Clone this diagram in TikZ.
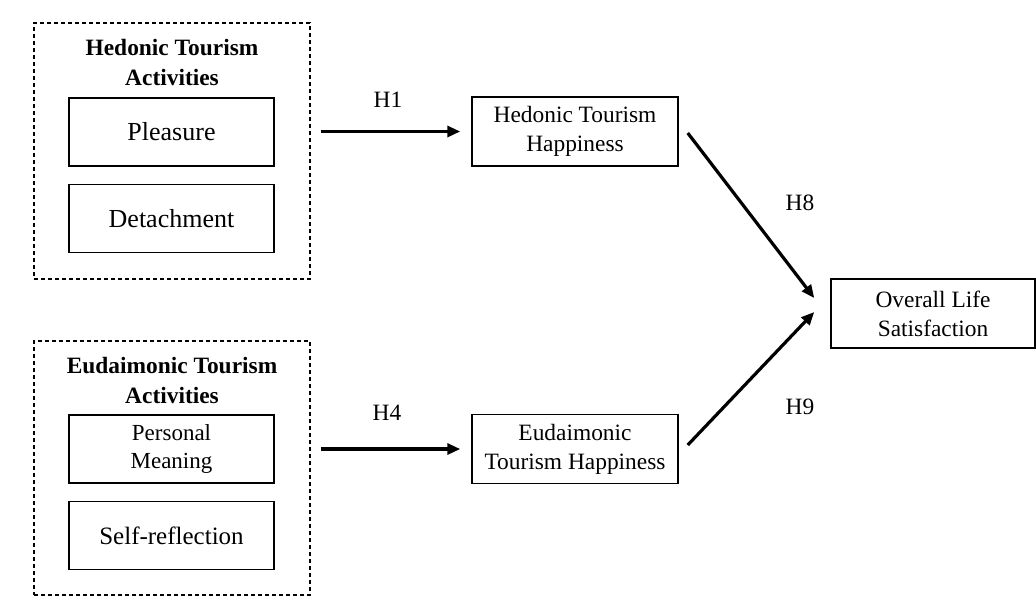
\documentclass[tikz,border=0pt]{standalone}
\usepackage{fontspec}
\setmainfont{Liberation Serif}
\usetikzlibrary{arrows.meta, positioning}

\tikzset{
    actbox/.style={draw, line width=0.75pt, minimum width=102.5pt, minimum height=34pt, inner sep=0pt, align=center},
    outbox/.style={draw, line width=0.75pt, minimum width=103pt, minimum height=34.5pt, inner sep=0pt, align=center, font=\fontsize{11.7}{14.5}\selectfont},
    groupbox/.style={draw, line width=0.8pt, dash pattern=on 2.2pt off 1.3pt, minimum width=138pt, inner sep=0pt},
    grouptitle/.style={align=center, font=\fontsize{11.7}{15}\selectfont\bfseries},
    hyplabel/.style={font=\fontsize{11.7}{14}\selectfont},
    hyp/.style={-{Triangle[length=6.5pt,width=5.5pt]}, line width=1.6pt},
}

\begin{document}
\begin{tikzpicture}[x=0.5pt, y=-0.5pt]
    \useasboundingbox (0,0) rectangle (1036,596);

    % Hedonic activities (dashed group)
    \node[groupbox, minimum height=128pt] (hedgroup) at (172,151) {};
    \node[grouptitle] (hedtitle) at (172,62) {Hedonic Tourism\\Activities};
    \node[actbox, font=\fontsize{13}{16}\selectfont] (pleasure) at (171.5,132) {Pleasure};
    \node[actbox, font=\fontsize{13}{16}\selectfont, below=8.5pt of pleasure] (detach) {Detachment};

    % Eudaimonic activities (dashed group)
    \node[groupbox, minimum height=127pt] (eudgroup) at (172,468) {};
    \node[grouptitle] (eudtitle) at (172,380) {Eudaimonic Tourism\\Activities};
    \node[actbox, font=\fontsize{11.5}{14}\selectfont] (meaning) at (171.5,449) {Personal\\Meaning};
    \node[actbox, font=\fontsize{12.5}{15}\selectfont, below=8.5pt of meaning] (reflect) {Self-reflection};

    % Happiness and life satisfaction
    \node[outbox] (hth) at (575,131.5) {Hedonic Tourism\\Happiness};
    \node[outbox] (eth) at (575,449) {Eudaimonic\\Tourism Happiness};
    \node[outbox, minimum width=102pt] (ols) at (933,313.5) {Overall Life\\Satisfaction};

    % Hypothesis paths
    \draw[hyp, shorten <=5pt, shorten >=5.5pt] (hth.west -| hedgroup.east) -- (hth.west);
    \draw[hyp, shorten <=5pt, shorten >=5.5pt] (eth.west -| eudgroup.east) -- (eth.west);
    \draw[hyp] ([shift={(4.5pt,-0.75pt)}]hth.east) -- ([shift={(-8pt,7.75pt)}]ols.west);
    \draw[hyp] ([shift={(4.5pt,2pt)}]eth.east) -- ([shift={(-8pt,0.75pt)}]ols.west);

    % Path labels
    \node[hyplabel] (h1) at (388,100) {H1};
    \node[hyplabel] (h4) at (387,413) {H4};
    \node[hyplabel] (h8) at (800,203) {H8};
    \node[hyplabel] (h9) at (800,407) {H9};
\end{tikzpicture}
\end{document}
